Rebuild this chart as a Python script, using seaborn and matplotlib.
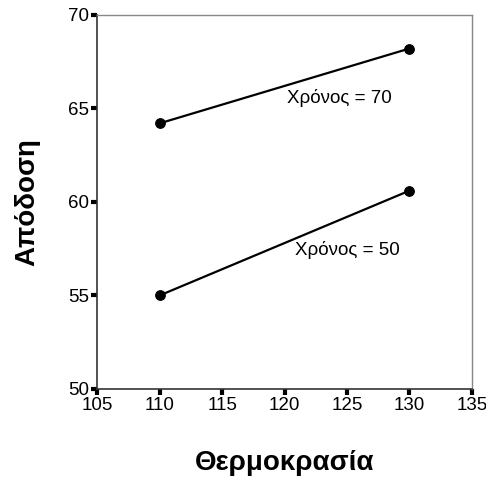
import pandas as pd
import matplotlib.pyplot as plt
import seaborn as sns

# Δεδομένα
temperature = [110, 130]
time_levels = ['Χρόνος = 50', 'Χρόνος = 70']
yield_50 = [55.0, 60.6]
yield_70 = [64.2, 68.2]

data = pd.DataFrame({
    'Θερμοκρασία': temperature * 2,
    'Απόδοση': yield_50 + yield_70,
    'Χρόνος': [time_levels[0]] * 2 + [time_levels[1]] * 2,
})

sns.set_style('white')
plt.rcParams['font.family'] = ['Liberation Sans', 'DejaVu Sans']
plt.rcParams['text.color'] = 'black'
plt.rcParams['axes.labelcolor'] = 'black'
plt.rcParams['xtick.color'] = 'black'
plt.rcParams['ytick.color'] = 'black'

fig = plt.figure(figsize=(4.86, 4.79), dpi=100)
ax = fig.add_axes([0.2, 0.188, 0.771, 0.781])

sns.lineplot(data=data, x='Θερμοκρασία', y='Απόδοση', hue='Χρόνος',
             palette=['black', 'black'], marker='o', markersize=7,
             markeredgecolor='black', linewidth=1.6, legend=False, ax=ax)

# Ετικέτες γραμμών
ax.text(120.2, 65.55, time_levels[1], fontsize=13.5, va='center', color='black')
ax.text(120.8, 57.45, time_levels[0], fontsize=13.5, va='center', color='black')

ax.set_xlim(105, 135)
ax.set_ylim(50, 70)
ax.set_xticks(range(105, 136, 5))
ax.set_yticks(range(50, 71, 5))
ax.tick_params(direction='out', length=4, width=3, color='black',
               labelcolor='black', labelsize=13.5, pad=2, left=True, bottom=True)

for side in ['left', 'bottom']:
    ax.spines[side].set_color('#333333')
    ax.spines[side].set_linewidth(1.2)
for side in ['top', 'right']:
    ax.spines[side].set_color('#888888')
    ax.spines[side].set_linewidth(1.0)

ax.set_xlabel('Θερμοκρασία', fontsize=20, fontweight='bold', labelpad=26, color='black')
ax.set_ylabel('Απόδοση', fontsize=20, fontweight='bold', labelpad=20, color='black')

fig.savefig('out.png', dpi=100)
